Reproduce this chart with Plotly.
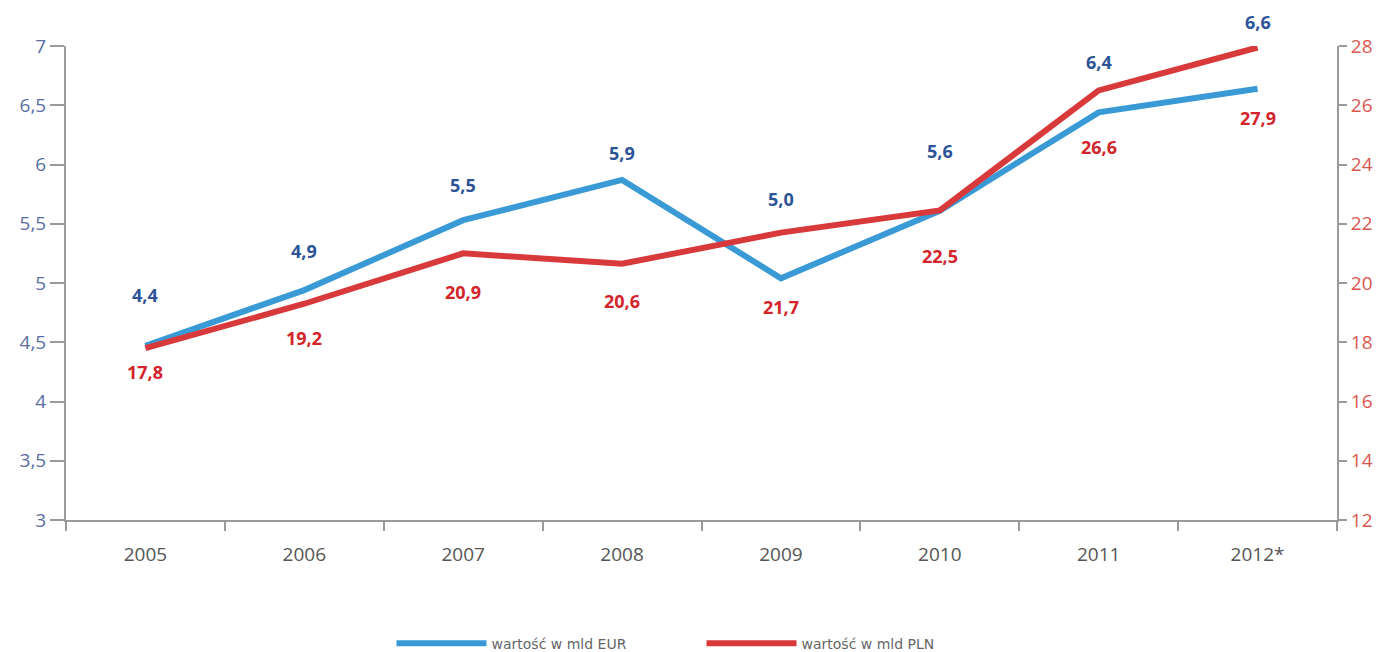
import plotly.graph_objects as go

years = ["2005", "2006", "2007", "2008", "2009", "2010", "2011", "2012*"]
eur_values = [4.47, 4.94, 5.53, 5.87, 5.04, 5.61, 6.44, 6.64]
pln_values = [17.8, 19.3, 21.0, 20.65, 21.7, 22.45, 26.5, 27.95]
eur_labels = ["4,4", "4,9", "5,5", "5,9", "5,0", "5,6", "6,4", "6,6"]
pln_labels = ["17,8", "19,2", "20,9", "20,6", "21,7", "22,5", "26,6", "27,9"]

# label offsets in pixels (style)
eur_shift = [51, 39, 35, 27, 79, 60, 50, 67]
pln_shift = [-24, -34, -39, -37, -74, -46, -57, -71]

BLUE = "#3a9ad6"
RED = "#d8393b"
BLUE_TXT = "#2c5497"
RED_TXT = "#d4242b"
FONT = "Open Sans"

fig = go.Figure()
fig.add_trace(go.Scatter(x=years, y=eur_values, mode="lines", name="wartość w mld EUR",
                         line=dict(color=BLUE, width=6), yaxis="y"))
fig.add_trace(go.Scatter(x=years, y=pln_values, mode="lines", name="wartość w mld PLN",
                         line=dict(color=RED, width=6), yaxis="y2"))

ann = []
for i, (v, t, s) in enumerate(zip(eur_values, eur_labels, eur_shift)):
    ann.append(dict(x=i, y=v, xref="x", yref="y", text=t, showarrow=False, yshift=s,
                    font=dict(family=FONT, size=18, color=BLUE_TXT, weight="bold")))
for i, (v, t, s) in enumerate(zip(pln_values, pln_labels, pln_shift)):
    ann.append(dict(x=i, y=v, xref="x", yref="y2", text=t, showarrow=False, yshift=s,
                    font=dict(family=FONT, size=18, color=RED_TXT, weight="bold")))

fig.update_layout(
    width=1385, height=652,
    margin=dict(l=58, r=56, t=38, b=140),
    paper_bgcolor="white", plot_bgcolor="white",
    separators=", ",
    font=dict(family=FONT),
    showlegend=True,
    legend=dict(orientation="h", x=0.5, xanchor="center", yref="container", y=0.025,
                yanchor="middle",
                itemwidth=90, entrywidth=205, entrywidthmode="pixels",
                font=dict(family="DejaVu Sans", size=14, color="#666666"),
                traceorder="normal"),
    xaxis=dict(type="category", range=[-0.5, 7.5], showgrid=False, zeroline=False,
               showline=True, linecolor="#9a9a9a", linewidth=2,
               ticks="outside", tickson="boundaries", ticklen=9, tickwidth=2, tickcolor="#9a9a9a",
               ticklabelstandoff=16,
               tickfont=dict(family=FONT, size=19, color="#555555")),
    yaxis=dict(range=[3, 7], dtick=0.5, showgrid=False, zeroline=False,
               showline=True, linecolor="#9a9a9a", linewidth=2,
               ticks="outside", ticklen=14, tickwidth=2, tickcolor="#9a9a9a",
               tickfont=dict(family=FONT, size=19, color="#5a6ea3")),
    yaxis2=dict(range=[12, 28], dtick=2, overlaying="y", side="right", showgrid=False,
                zeroline=False, showline=True, linecolor="#9a9a9a", linewidth=2,
                ticks="outside", ticklen=8, tickwidth=2, tickcolor="#9a9a9a",
                tickfont=dict(family=FONT, size=19, color="#d9574f")),
    annotations=ann,
)

fig.write_html("out.html")
